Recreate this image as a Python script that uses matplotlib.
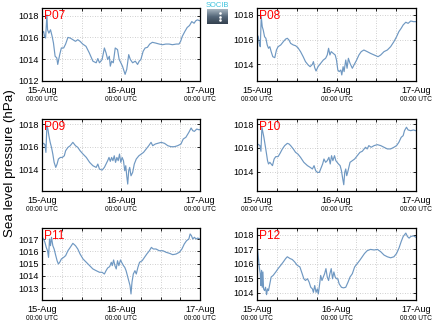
import matplotlib
matplotlib.use("Agg")
import matplotlib.pyplot as plt
import numpy as np
from matplotlib.colors import LinearSegmentedColormap

plt.rcParams['font.family'] = ['Liberation Sans', 'DejaVu Sans']

# ---------------- data (hours since 15-Aug 00:00 UTC, hPa) ----------------
p07_h = [0, 0.4, 0.7, 1.0, 1.4, 1.6, 2.0, 2.5, 3.0, 3.4, 3.9, 4.4, 4.7, 5.3, 5.8, 6.5, 7.1, 7.8, 8.5, 9.3,
         10.1, 10.8, 11.5, 12.3, 13.3, 14.3, 15.4, 16.4, 16.9, 17.4, 18.2, 18.9, 19.4, 19.9, 20.4, 20.7, 21.1, 21.6, 22.2, 22.9,
         23.4, 23.9, 24.4, 25.2, 25.7, 26.3, 26.8, 27.5, 28.3, 29.0, 29.5, 30.0, 30.7, 31.3, 32.0, 32.7, 33.5, 34.5, 35.6, 36.6,
         37.6, 38.6, 39.6, 40.8, 41.6, 42.1, 42.6, 43.4, 44.1, 44.8, 45.5, 46.2, 46.7, 47.2, 48.0]
p07_v = [1016.39, 1016.55, 1016.09, 1015.94, 1018.06, 1016.70, 1016.39, 1016.70, 1016.09, 1015.48, 1014.27, 1014.12, 1013.52, 1014.42, 1015.03, 1015.03, 1015.39, 1016.00, 1015.94, 1015.79,
         1015.64, 1015.79, 1015.64, 1015.39, 1015.18, 1014.58, 1013.82, 1013.67, 1014.06, 1013.67, 1013.97, 1015.03, 1014.58, 1013.97, 1014.27, 1013.36, 1013.82, 1013.67, 1015.03, 1014.88,
         1013.97, 1013.67, 1013.36, 1012.61, 1013.06, 1014.42, 1013.97, 1013.67, 1013.82, 1013.52, 1013.82, 1013.97, 1014.73, 1015.03, 1015.09, 1015.39, 1015.55, 1015.48, 1015.39, 1015.33,
         1015.39, 1015.39, 1015.33, 1015.39, 1015.39, 1015.64, 1016.09, 1016.55, 1016.91, 1017.09, 1017.45, 1017.30, 1017.52, 1017.61, 1017.52]

p08_h = [0, 0.3, 0.6, 0.9, 1.2, 1.5, 1.8, 2.2, 2.6, 3.0, 3.4, 3.8, 4.2, 4.7, 5.3, 5.8, 6.3, 7.1, 7.9, 8.6,
         9.1, 9.6, 10.1, 10.9, 11.6, 12.3, 13.1, 13.9, 14.6, 15.4, 16.0, 16.7, 17.0, 17.4, 17.8, 18.4, 19.2, 20.0, 20.7, 21.2,
         21.6, 22.0, 22.4, 23.0, 23.6, 24.0, 24.4, 24.8, 25.3, 25.6, 26.0, 26.3, 26.8, 27.2, 27.6, 28.1, 28.8, 29.3, 30.1, 30.8,
         31.5, 32.3, 33.3, 34.3, 35.4, 36.6, 37.4, 38.4, 39.4, 40.4, 41.4, 42.2, 42.9, 43.6, 44.2, 45.0, 45.7, 46.5, 47.3, 48.0]
p08_v = [1016.38, 1016.24, 1015.70, 1015.43, 1017.86, 1017.05, 1016.78, 1016.24, 1016.11, 1015.57, 1015.30, 1015.43, 1015.03, 1014.62, 1014.54, 1015.16, 1015.43, 1015.57, 1015.84, 1016.05,
         1016.11, 1015.97, 1015.70, 1015.57, 1015.51, 1015.35, 1015.03, 1014.62, 1014.22, 1013.95, 1013.81, 1014.00, 1014.22, 1013.73, 1013.46, 1013.81, 1014.08, 1014.35, 1014.49, 1014.76,
         1015.30, 1014.76, 1015.03, 1014.89, 1014.76, 1014.35, 1013.54, 1013.41, 1013.54, 1013.14, 1013.81, 1013.41, 1014.35, 1013.68, 1014.49, 1014.08, 1013.68, 1013.95, 1014.35, 1014.76,
         1015.03, 1015.16, 1015.03, 1014.89, 1014.76, 1014.62, 1014.76, 1015.03, 1015.16, 1015.43, 1015.84, 1016.24, 1016.65, 1016.92, 1017.19, 1017.41, 1017.32, 1017.51, 1017.46, 1017.46]

p09_h = [0, 0.4, 0.8, 1.1, 1.4, 1.7, 2.0, 2.4, 2.8, 3.2, 3.6, 4.1, 4.5, 4.9, 5.5, 6.1, 6.7, 7.1, 7.8, 8.5,
         9.3, 10.1, 10.8, 11.5, 12.4, 13.4, 14.4, 15.4, 16.4, 16.9, 17.4, 18.2, 18.9, 19.4, 19.9, 20.3, 20.7, 21.1, 21.5, 21.9,
         22.3, 22.7, 23.1, 23.5, 23.9, 24.3, 24.7, 25.1, 25.4, 25.7, 26.0, 26.3, 26.6, 27.0, 27.5, 28.0, 28.6, 29.4, 30.1, 30.8,
         31.6, 32.4, 33.1, 33.6, 34.4, 35.1, 36.2, 37.2, 38.2, 39.2, 40.2, 41.2, 42.2, 42.9, 43.7, 44.6, 45.3, 45.8, 46.3, 47.0,
         47.6, 48.0]
p09_v = [1016.24, 1016.30, 1016.18, 1015.49, 1017.88, 1017.58, 1016.99, 1016.39, 1015.94, 1015.34, 1014.60, 1014.15, 1014.45, 1014.90, 1015.04, 1015.04, 1015.19, 1015.64, 1015.94, 1016.09,
         1016.39, 1016.09, 1015.94, 1015.64, 1015.34, 1015.04, 1014.60, 1014.30, 1014.15, 1014.45, 1014.00, 1013.91, 1014.15, 1014.45, 1014.75, 1015.04, 1014.69, 1015.04, 1014.75, 1015.19,
         1014.60, 1015.04, 1014.75, 1015.34, 1014.60, 1015.04, 1014.75, 1013.85, 1014.30, 1013.40, 1012.66, 1013.85, 1014.15, 1013.40, 1013.70, 1014.45, 1014.90, 1015.19, 1015.34, 1015.49,
         1015.79, 1016.09, 1016.39, 1016.09, 1016.24, 1016.30, 1016.39, 1016.30, 1016.09, 1016.00, 1016.00, 1016.09, 1016.24, 1016.69, 1016.84, 1017.28, 1017.67, 1017.43, 1017.37, 1017.58,
         1017.52, 1017.52]

p10_h = [0, 0.4, 0.8, 1.1, 1.4, 1.7, 2.0, 2.4, 2.8, 3.1, 3.4, 3.8, 4.2, 4.6, 5.1, 5.6, 6.3, 6.9, 7.6, 8.3,
         9.1, 9.6, 10.1, 10.9, 11.6, 12.3, 13.1, 14.1, 15.2, 16.0, 16.7, 17.2, 17.7, 18.2, 18.8, 19.2, 19.8, 20.2, 20.7, 21.2,
         21.7, 22.1, 22.5, 22.9, 23.4, 23.8, 24.2, 24.6, 25.1, 25.5, 25.9, 26.2, 26.5, 26.8, 27.1, 27.5, 28.1, 28.8, 29.5, 30.3,
         31.1, 31.8, 32.8, 33.3, 33.8, 34.5, 35.4, 36.4, 37.4, 38.4, 39.4, 40.4, 41.4, 42.2, 42.9, 43.6, 44.2, 44.6, 45.2, 45.7,
         46.5, 47.3, 48.0]
p10_v = [1016.34, 1016.28, 1016.20, 1015.72, 1017.75, 1017.32, 1016.90, 1016.20, 1015.49, 1014.93, 1014.65, 1014.79, 1014.65, 1014.51, 1015.07, 1015.27, 1015.27, 1015.55, 1015.92, 1016.20,
         1016.39, 1016.34, 1016.20, 1015.92, 1015.63, 1015.49, 1015.21, 1014.79, 1014.51, 1014.37, 1014.23, 1014.51, 1014.08, 1013.94, 1013.94, 1014.23, 1014.65, 1015.07, 1014.79, 1014.93,
         1015.21, 1014.65, 1015.35, 1014.93, 1015.35, 1014.93, 1014.79, 1014.65, 1014.51, 1014.08, 1013.38, 1012.90, 1013.94, 1014.23, 1013.66, 1014.08, 1014.79, 1014.93, 1015.07, 1015.35,
         1015.63, 1015.72, 1016.06, 1015.92, 1016.20, 1016.06, 1016.20, 1016.28, 1016.20, 1016.06, 1015.92, 1015.92, 1016.06, 1016.20, 1016.48, 1016.90, 1017.04, 1017.46, 1017.75, 1017.52,
         1017.46, 1017.52, 1017.46]

p11_h = [0, 0.4, 0.8, 1.2, 1.6, 1.9, 2.2, 2.5, 2.8, 3.2, 3.6, 4.1, 4.5, 4.9, 5.3, 5.8, 6.5, 7.1, 7.8, 8.5,
         9.3, 10.1, 10.8, 11.5, 12.4, 13.4, 14.4, 15.4, 16.4, 17.4, 18.2, 18.9, 19.4, 19.9, 20.5, 21.0, 21.3, 21.7, 22.1, 22.5,
         22.9, 23.3, 23.8, 24.3, 24.7, 25.1, 25.5, 25.9, 26.3, 26.7, 27.0, 27.3, 27.7, 28.2, 28.6, 29.1, 29.6, 30.4, 31.1, 31.8,
         32.6, 33.2, 33.8, 34.6, 35.6, 36.7, 37.7, 38.7, 39.7, 40.7, 41.7, 42.5, 43.2, 43.9, 44.6, 45.0, 45.4, 45.8, 46.3, 46.8,
         47.3, 48.0]
p11_v = [1017.14, 1017.00, 1016.73, 1016.32, 1016.05, 1015.51, 1017.00, 1016.46, 1017.14, 1016.46, 1016.19, 1015.65, 1015.24, 1014.97, 1015.11, 1015.38, 1015.51, 1015.65, 1016.05, 1016.32,
         1016.65, 1016.46, 1016.19, 1015.78, 1015.38, 1015.11, 1014.84, 1014.57, 1014.43, 1014.30, 1014.30, 1014.16, 1014.43, 1014.65, 1014.76, 1015.11, 1014.84, 1015.30, 1014.84, 1014.57,
         1015.24, 1014.84, 1015.30, 1015.03, 1014.84, 1014.70, 1014.43, 1014.03, 1013.62, 1013.22, 1012.54, 1013.49, 1014.16, 1014.43, 1014.16, 1014.70, 1015.11, 1015.24, 1015.51, 1015.78,
         1016.05, 1016.32, 1016.19, 1016.19, 1016.05, 1016.05, 1015.92, 1015.84, 1015.73, 1015.78, 1015.92, 1016.19, 1016.59, 1016.86, 1017.00, 1017.41, 1017.27, 1017.00, 1017.14, 1017.00,
         1017.08, 1017.00]

p12_h = [0, 0.3, 0.6, 0.9, 1.1, 1.3, 1.5, 1.7, 1.9, 2.2, 2.5, 2.8, 3.1, 3.4, 3.8, 4.2, 4.8, 5.6, 6.3, 7.1,
         7.9, 8.6, 9.1, 9.9, 10.6, 11.3, 12.1, 12.9, 13.6, 14.1, 14.6, 15.2, 15.7, 16.2, 16.7, 17.0, 17.4, 17.8, 18.2, 18.5,
         18.9, 19.2, 19.6, 20.0, 20.4, 20.8, 21.2, 21.6, 22.0, 22.4, 22.8, 23.2, 23.6, 24.0, 24.4, 24.8, 25.5, 26.1, 26.8, 27.5,
         28.1, 28.8, 29.5, 30.3, 31.1, 31.8, 32.5, 33.3, 34.3, 35.4, 36.4, 37.4, 38.4, 39.4, 40.4, 41.4, 42.2, 42.9, 43.6, 44.2,
         45.0, 45.5, 46.0, 46.5, 47.3, 48.0]
p12_v = [1017.18, 1016.48, 1015.78, 1015.31, 1014.49, 1015.54, 1014.37, 1015.43, 1014.26, 1014.14, 1014.37, 1013.86, 1014.26, 1014.14, 1014.61, 1015.08, 1015.19, 1015.43, 1015.66, 1015.89,
         1016.13, 1016.36, 1016.48, 1016.36, 1016.29, 1016.13, 1015.89, 1015.78, 1015.31, 1014.96, 1014.84, 1014.96, 1014.73, 1014.37, 1014.26, 1014.02, 1014.49, 1014.02, 1014.26, 1013.91,
         1014.61, 1015.19, 1014.84, 1015.08, 1015.31, 1015.66, 1015.08, 1014.84, 1015.31, 1015.66, 1014.96, 1015.43, 1015.08, 1014.96, 1014.96, 1014.61, 1014.37, 1014.33, 1014.37, 1014.73,
         1015.08, 1015.31, 1015.78, 1016.01, 1016.25, 1016.48, 1016.71, 1016.90, 1016.99, 1016.95, 1016.99, 1016.83, 1016.60, 1016.48, 1016.41, 1016.48, 1016.71, 1017.06, 1017.53, 1017.88,
         1018.12, 1017.88, 1017.77, 1017.88, 1017.93, 1017.84]

station_names = ["P07", "P08", "P09", "P10", "P11", "P12"]
series_h = [p07_h, p08_h, p09_h, p10_h, p11_h, p12_h]
series_v = [p07_v, p08_v, p09_v, p10_v, p11_v, p12_v]
y_limits = [(1012.0, 1018.67), (1012.65, 1018.54), (1012.04, 1018.45),
            (1012.37, 1018.42), (1012.05, 1017.87), (1013.49, 1018.45)]
y_ticks = [[1012, 1014, 1016, 1018], [1014, 1016, 1018], [1014, 1016, 1018],
           [1014, 1016, 1018], [1013, 1014, 1015, 1016, 1017], [1014, 1015, 1016, 1017, 1018]]
day_labels = ["15-Aug", "16-Aug", "17-Aug"]
time_label = "00:00 UTC"
ylabel_text = "Sea level pressure (hPa)"

# ---------------- figure ----------------
W, H = 434, 327
fig = plt.figure(figsize=(W / 100, H / 100), dpi=100)
fig.patch.set_facecolor("white")

col_x = [42.3, 257.3]
col_w = [157.7, 158.4]
row_top = [8.3, 119.3, 228.3]
row_bot = [81.0, 191.0, 300.0]

line_color = "#6f98c2"
for i in range(6):
    r, c = divmod(i, 2)
    left = col_x[c] / W
    bottom = 1 - row_bot[r] / H
    width = col_w[c] / W
    height = (row_bot[r] - row_top[r]) / H
    ax = fig.add_axes([left, bottom, width, height])
    ax.plot(series_h[i], series_v[i], color=line_color, lw=0.85)
    ax.set_xlim(0, 48)
    ax.set_ylim(*y_limits[i])
    ax.set_yticks(y_ticks[i])
    ax.set_yticklabels([str(t) for t in y_ticks[i]])
    ax.set_xticks(np.arange(0, 49, 6))
    ax.set_xticklabels([day_labels[k // 24] if k % 24 == 0 else "" for k in range(0, 49, 6)])
    ax.grid(True, color="#c0c0c0", linestyle=(0, (1, 2)), lw=0.6)
    ax.tick_params(direction="in", length=2, width=0.6, top=True, right=True,
                   labelsize=6.6, colors="black")
    ax.tick_params(axis="y", pad=2.5)
    ax.tick_params(axis="x", pad=3.6)
    for s in ax.spines.values():
        s.set_linewidth(0.9)
        s.set_color("black")
    for d in [0, 24, 48]:
        ax.text(d, -0.255, time_label, transform=ax.get_xaxis_transform(),
                ha="center", va="center", fontsize=4.8)
    ax.text(0.012, 0.98, station_names[i], transform=ax.transAxes, color="red",
            fontsize=8.6, ha="left", va="top")

fig.text(10 / W, 0.5, ylabel_text, rotation=90, ha="center", va="center", fontsize=9.6)

# logo (gradient block + label)
lax = fig.add_axes([207 / W, 1 - 24 / H, 21 / W, 15 / H])
grad = np.linspace(0, 1, 50).reshape(-1, 1)
cmap = LinearSegmentedColormap.from_list("logo", ["#a6b4bf", "#56687a", "#34414f"])
lax.imshow(grad, aspect="auto", cmap=cmap, extent=(0, 1, 0, 1), origin="upper")
lax.plot([0.62, 0.62, 0.62], [0.75, 0.5, 0.25], ls="none", marker="s", ms=0.8, color="white")
lax.set_xlim(0, 1)
lax.set_ylim(0, 1)
lax.axis("off")
fig.text(217.5 / W, 1 - 5.8 / H, "SOCIB", color="#3cc2dc", fontsize=5.4, ha="center", va="center")

fig.savefig("out.png", dpi=100)
